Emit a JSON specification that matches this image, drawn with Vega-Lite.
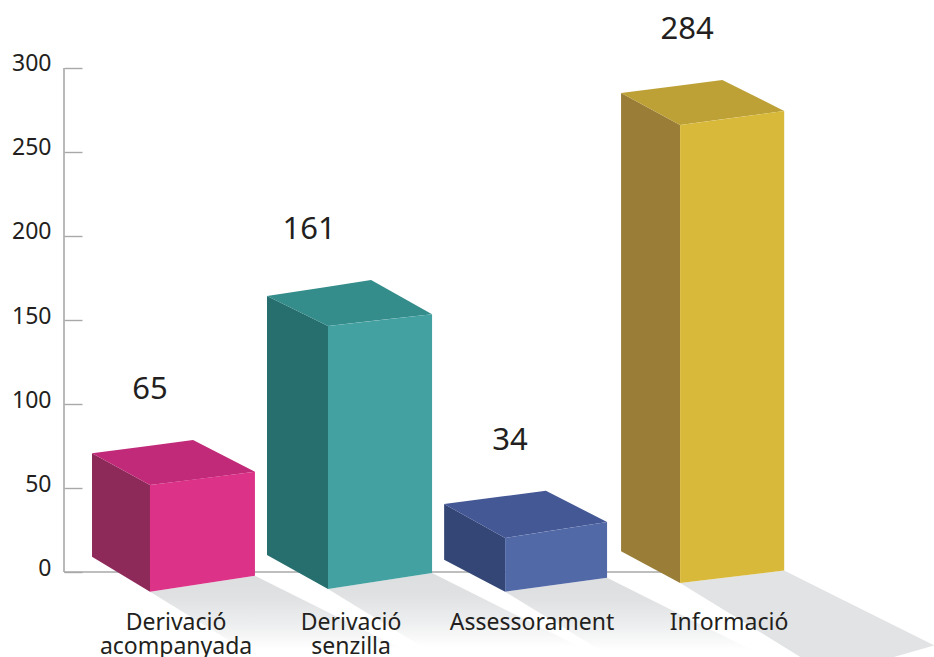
{
  "$schema": "https://vega.github.io/schema/vega-lite/v6.json",
  "width": 870,
  "height": 657,
  "autosize": "none",
  "padding": {"left": 64, "top": 0, "right": 0, "bottom": 0},
  "background": "white",
  "config": {"view": {"stroke": null}},
  "data": {"values": [
    {"category": "Derivació acompanyada", "value": 65, "slot": 0},
    {"category": "Derivació senzilla", "value": 161, "slot": 1},
    {"category": "Assessorament", "value": 34, "slot": 2},
    {"category": "Informació", "value": 284, "slot": 3}
  ]},
  "transform": [
    {"calculate": "[0,1.004,2.003,2.99][datum.slot]", "as": "xF"},
    {"calculate": "datum.xF+[0.592,0.587,0.575,0.587][datum.slot]", "as": "xR"},
    {"calculate": "datum.xF-[0.327,0.344,0.344,0.333][datum.slot]", "as": "xL"},
    {"calculate": "[-11.7,-10.1,-11.7,-6.5][datum.slot]", "as": "yB"},
    {"calculate": "datum.yB+[9.5,9.5,8.3,7.4][datum.slot]", "as": "yBR"},
    {"calculate": "datum.yB+datum.value*[0.976,0.972,0.94,0.96][datum.slot]", "as": "yT"},
    {"calculate": "datum.yT+[7.9,7.1,9.5,8.3][datum.slot]", "as": "yTR"},
    {"calculate": "datum.yB+[20.8,20.2,19,18.8][datum.slot]", "as": "yLB"},
    {"calculate": "datum.yT+[18.9,17.9,20.2,19][datum.slot]", "as": "yLT"},
    {"calculate": "datum.xL+[0.57,0.587,0.574,0.571][datum.slot]", "as": "xK"},
    {"calculate": "datum.yLT+[7.9,9.5,7.9,7.7][datum.slot]", "as": "yK"}
  ],
  "layer": [
    {
      "description": "Floor shadows of the three shorter bars, fading out",
      "transform": [
        {"filter": "datum.slot<3"},
        {"calculate": "[datum.xF,datum.xR,datum.xF+0.846,datum.xR+0.846]", "as": "fx"},
        {"calculate": "[datum.yB,datum.yBR,datum.yBR-44.6*(0.846-(datum.xR-datum.xF))/0.846,datum.yBR-44.6]", "as": "fy"},
        {"calculate": "[datum.yB,datum.yB-55*(datum.xR-datum.xF)/0.846,datum.yB-55,datum.yBR-44.6]", "as": "fy2"},
        {"flatten": ["fx", "fy", "fy2"]}
      ],
      "mark": {"type": "area", "clip": true, "color": {"gradient": "linear", "x1": 0, "y1": 0, "x2": 0, "y2": 1, "stops": [
        {"offset": 0, "color": "#DDDEE0"},
        {"offset": 0.2, "color": "#E0E1E3"},
        {"offset": 0.45, "color": "#EDEEEF"},
        {"offset": 0.68, "color": "#FFFFFF"},
        {"offset": 1, "color": "#FFFFFF"}
      ]}},
      "encoding": {
        "x": {"field": "fx", "type": "quantitative", "scale": {"domain": [-0.485, 4.422], "zero": false, "nice": false}, "axis": null},
        "y": {"field": "fy", "type": "quantitative", "scale": {"domain": [-50.595, 340.476], "zero": false, "nice": false}, "axis": {"values": [0, 50, 100, 150, 200, 250, 300], "title": null, "grid": false, "domain": false, "tickColor": "#A8A8A8", "tickWidth": 1.4, "tickSize": -18, "labelPadding": 31, "labelOffset": -4, "labelFont": "Noto Sans", "labelFontSize": 23, "labelColor": "#231F20"}},
        "y2": {"field": "fy2"},
        "detail": {"field": "category"}
      }
    },
    {
      "description": "Floor shadow of the tallest bar",
      "transform": [
        {"filter": "datum.slot==3"},
        {"calculate": "[datum.xF,datum.xR,datum.xF+0.846,datum.xR+0.846]", "as": "fx"},
        {"calculate": "[datum.yB,datum.yBR,datum.yBR-44.6*(0.846-(datum.xR-datum.xF))/0.846,datum.yBR-44.6]", "as": "fy"},
        {"calculate": "[datum.yB,datum.yB-55*(datum.xR-datum.xF)/0.846,datum.yB-55,datum.yBR-44.6]", "as": "fy2"},
        {"flatten": ["fx", "fy", "fy2"]}
      ],
      "mark": {"type": "area", "clip": true, "color": "#E2E3E5"},
      "encoding": {
        "x": {"field": "fx", "type": "quantitative"},
        "y": {"field": "fy", "type": "quantitative"},
        "y2": {"field": "fy2"}
      }
    },
    {
      "description": "Baseline running behind the bars",
      "transform": [{"filter": "datum.slot==3"}, {"calculate": "-0.485", "as": "x0"}, {"calculate": "0", "as": "y0"}],
      "mark": {"type": "rule", "color": "#A8A8A8", "strokeWidth": 1.6},
      "encoding": {
        "x": {"field": "x0", "type": "quantitative"},
        "x2": {"field": "xF"},
        "y": {"field": "y0", "type": "quantitative"}
      }
    },
    {
      "description": "Vertical axis line",
      "transform": [{"filter": "datum.slot==3"}, {"calculate": "-0.485", "as": "x0"}, {"calculate": "0", "as": "y0"}, {"calculate": "300", "as": "y1"}],
      "mark": {"type": "rule", "color": "#A8A8A8", "strokeWidth": 1.6},
      "encoding": {
        "x": {"field": "x0", "type": "quantitative"},
        "y": {"field": "y0", "type": "quantitative"},
        "y2": {"field": "y1"}
      }
    },
    {
      "description": "Left side faces",
      "transform": [
        {"calculate": "'side '+datum.slot", "as": "face"},
        {"calculate": "[datum.xL,datum.xF]", "as": "fx"},
        {"calculate": "[datum.yLT,datum.yT]", "as": "fy"},
        {"calculate": "[datum.yLB,datum.yB]", "as": "fy2"},
        {"flatten": ["fx", "fy", "fy2"]}
      ],
      "mark": {"type": "area"},
      "encoding": {
        "x": {"field": "fx", "type": "quantitative"},
        "y": {"field": "fy", "type": "quantitative"},
        "y2": {"field": "fy2"},
        "color": {"field": "face", "type": "nominal", "legend": null, "scale": {
          "domain": ["side 0", "side 1", "side 2", "side 3", "top 0", "top 1", "top 2", "top 3", "front 0", "front 1", "front 2", "front 3"],
          "range": ["#8E2A5A", "#266F6E", "#344676", "#9A7E37", "#C12A79", "#348C8B", "#445896", "#BDA036", "#DC3388", "#43A1A2", "#5269A8", "#D9B93A"]
        }}
      }
    },
    {
      "description": "Top faces",
      "transform": [
        {"calculate": "'top '+datum.slot", "as": "face"},
        {"calculate": "[datum.xL,datum.xF,datum.xK,datum.xR]", "as": "fx"},
        {"calculate": "[datum.yLT,datum.yLT+(datum.yK-datum.yLT)*(datum.xF-datum.xL)/(datum.xK-datum.xL),datum.yK,datum.yTR]", "as": "fy"},
        {"calculate": "[datum.yLT,datum.yT,datum.yT+(datum.yTR-datum.yT)*(datum.xK-datum.xF)/(datum.xR-datum.xF),datum.yTR]", "as": "fy2"},
        {"flatten": ["fx", "fy", "fy2"]}
      ],
      "mark": {"type": "area"},
      "encoding": {
        "x": {"field": "fx", "type": "quantitative"},
        "y": {"field": "fy", "type": "quantitative"},
        "y2": {"field": "fy2"},
        "color": {"field": "face", "type": "nominal", "legend": null}
      }
    },
    {
      "description": "Front faces",
      "transform": [
        {"calculate": "'front '+datum.slot", "as": "face"},
        {"calculate": "[datum.xF,datum.xR]", "as": "fx"},
        {"calculate": "[datum.yT,datum.yTR]", "as": "fy"},
        {"calculate": "[datum.yB,datum.yBR]", "as": "fy2"},
        {"flatten": ["fx", "fy", "fy2"]}
      ],
      "mark": {"type": "area"},
      "encoding": {
        "x": {"field": "fx", "type": "quantitative"},
        "y": {"field": "fy", "type": "quantitative"},
        "y2": {"field": "fy2"},
        "color": {"field": "face", "type": "nominal", "legend": null}
      }
    },
    {
      "description": "Value labels above each bar",
      "transform": [
        {"calculate": "datum.xF+[0,-0.107,0.028,0.04][datum.slot]", "as": "lx"},
        {"calculate": "datum.yK+29.6", "as": "ly"}
      ],
      "mark": {"type": "text", "font": "Noto Sans", "fontSize": 31, "color": "#231F20", "baseline": "middle", "align": "center"},
      "encoding": {
        "x": {"field": "lx", "type": "quantitative"},
        "y": {"field": "ly", "type": "quantitative"},
        "text": {"field": "value", "type": "quantitative"}
      }
    },
    {
      "description": "Category labels, broken over two lines",
      "transform": [
        {"calculate": "datum.xF+[0.147,0.13,0.152,0.276][datum.slot]", "as": "lx"},
        {"calculate": "-34.8", "as": "ly"}
      ],
      "mark": {"type": "text", "font": "Noto Sans", "fontSize": 23, "color": "#231F20", "baseline": "alphabetic", "align": "center", "lineBreak": " ", "lineHeight": 24},
      "encoding": {
        "x": {"field": "lx", "type": "quantitative"},
        "y": {"field": "ly", "type": "quantitative"},
        "text": {"field": "category", "type": "nominal"}
      }
    }
  ]
}
